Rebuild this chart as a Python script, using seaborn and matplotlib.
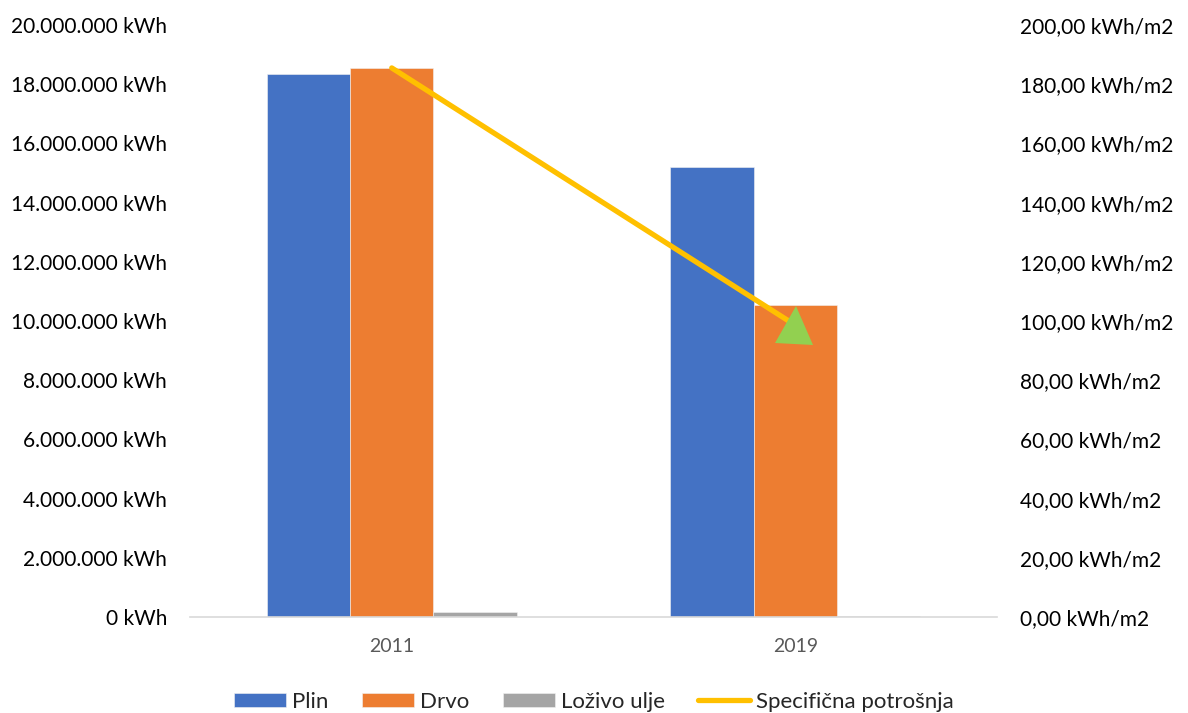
import matplotlib
matplotlib.use("Agg")
import matplotlib.pyplot as plt
import seaborn as sns
import pandas as pd
from matplotlib.ticker import FuncFormatter
from matplotlib.markers import MarkerStyle
from matplotlib.transforms import Affine2D
from matplotlib.lines import Line2D

years = ["2011", "2019"]
fuels = ["Plin", "Drvo", "Loživo ulje"]
plin = [18340000, 15190000]
drvo = [18550000, 10540000]
lozivo = [170000, 20000]
specificna = [185.5, 98.6]

colors = ["#4472C4", "#ED7D31", "#A5A5A5"]
line_color = "#FFC000"
tri_color = "#92D050"

sns.set_theme(style="white")
plt.rcParams['font.family'] = ['Lato', 'DejaVu Sans']

rows = []
for i, y in enumerate(years):
    rows.append({"year": y, "fuel": fuels[0], "val": plin[i]})
    rows.append({"year": y, "fuel": fuels[1], "val": drvo[i]})
    rows.append({"year": y, "fuel": fuels[2], "val": lozivo[i]})
df = pd.DataFrame(rows)

fig = plt.figure(figsize=(11.88, 7.13), dpi=100)
ax = fig.add_axes([190/1188, (713-617)/713, (997-190)/1188, (617-25)/713])
sns.barplot(data=df, x="year", y="val", hue="fuel", hue_order=fuels,
            palette=colors, width=0.62, gap=0, saturation=1, ax=ax, legend=True,
            linewidth=0.4, edgecolor="#F2F2F2")
ax.set_ylim(0, 20000000)
ax.set_yticks(range(0, 20000001, 2000000))
ax.yaxis.set_major_formatter(FuncFormatter(lambda v, p: f"{int(v):,}".replace(",", ".") + " kWh"))
ax.set_xlabel("")
ax.set_ylabel("")
ax.set_xlim(-0.5, 1.5)
for s in ["top", "right", "left"]:
    ax.spines[s].set_visible(False)
ax.spines["bottom"].set_color("#D9D9D9")
ax.spines["bottom"].set_linewidth(1.2)
ax.tick_params(axis="y", length=0, pad=16.5, labelsize=15, labelcolor="#000000")
ax.tick_params(axis="x", length=0, pad=15, labelsize=14, labelcolor="#595959")
bar_handles, bar_labels = ax.get_legend_handles_labels()
ax.get_legend().remove()

ax2 = ax.twinx()
xpos = list(range(len(years)))
sns.lineplot(x=xpos, y=specificna, color=line_color, linewidth=3.8, ax=ax2,
             solid_capstyle="round")
ax2.set_ylim(0, 200)
ax2.set_yticks(range(0, 201, 20))
ax2.yaxis.set_major_formatter(FuncFormatter(lambda v, p: f"{v:.2f}".replace(".", ",") + " kWh/m2"))
ax2.tick_params(axis="y", length=0, pad=16.5, labelsize=15, labelcolor="#000000")
for s in ["top", "right", "left", "bottom"]:
    ax2.spines[s].set_visible(False)
ax2.set_xlim(-0.5, 1.5)
tri = MarkerStyle("^", transform=Affine2D().rotate_deg(-3))
ax2.plot([xpos[-1]], [specificna[-1]], linestyle="none", marker=tri,
         markersize=28, color=tri_color, markeredgewidth=0)

line_handle = Line2D([0], [0], color=line_color, linewidth=3.8)
fig.legend(bar_handles + [line_handle], bar_labels + ["Specifična potrošnja"],
           loc="center", bbox_to_anchor=(0.5, 11/713), ncol=4, frameon=False,
           fontsize=16, handlelength=2.35, handleheight=0.63, handletextpad=0.27,
           columnspacing=1.5)

fig.savefig("out.png", dpi=100)
